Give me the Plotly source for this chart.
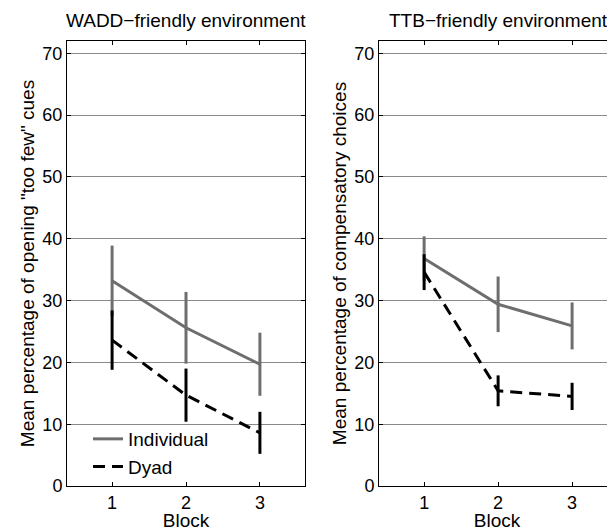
import plotly.graph_objects as go

blocks = [1, 2, 3]
tick_vals_y = [0, 10, 20, 30, 40, 50, 60, 70]

wadd_individual = [33.2, 25.6, 19.7]
wadd_individual_err = [5.7, 5.8, 5.1]
wadd_dyad = [23.6, 14.7, 8.6]
wadd_dyad_err = [4.8, 4.3, 3.4]

ttb_individual = [36.8, 29.4, 25.9]
ttb_individual_err = [3.6, 4.5, 3.8]
ttb_dyad = [34.6, 15.4, 14.5]
ttb_dyad_err = [2.9, 2.5, 2.2]

GRAY = "#6e6e6e"
BLACK = "#000000"
FONT = "Liberation Sans, Arial, sans-serif"
FS = 19

fig = go.Figure()

def add_pair(ind, ind_err, dy, dy_err, xa, ya, show):
    fig.add_trace(go.Scatter(
        x=blocks, y=ind, mode="lines", name="Individual",
        line=dict(color=GRAY, width=3),
        error_y=dict(type="data", array=ind_err, visible=True, color=GRAY, thickness=3, width=0),
        xaxis=xa, yaxis=ya, showlegend=show))
    fig.add_trace(go.Scatter(
        x=blocks, y=dy, mode="lines", name="Dyad",
        line=dict(color=BLACK, width=3, dash="12px,7px"),
        error_y=dict(type="data", array=dy_err, visible=True, color=BLACK, thickness=3, width=0),
        xaxis=xa, yaxis=ya, showlegend=show))

add_pair(wadd_individual, wadd_individual_err, wadd_dyad, wadd_dyad_err, "x", "y", True)
add_pair(ttb_individual, ttb_individual_err, ttb_dyad, ttb_dyad_err, "x2", "y2", False)

# page has an 8px body margin, so figure coordinates are page - 8
W, H = 607, 523
ML, MR, MT, MB = 0, 0, 33, 45
PW = W - ML - MR
PH = H - MT - MB

def xaxis(domain, rng, anchor):
    return dict(domain=domain, range=rng, anchor=anchor, tickvals=blocks, ticks="inside", ticklen=4,
                tickcolor=BLACK, showline=True, linecolor=BLACK, linewidth=1, mirror="ticks",
                showgrid=False, zeroline=False, automargin=False,
                tickfont=dict(size=FS - 1, color=BLACK, family=FONT),
                title=dict(text="Block", font=dict(size=FS, color=BLACK, family=FONT), standoff=4))

def yaxis(anchor, title, mirror):
    return dict(anchor=anchor, domain=[0, 1], range=[0, 72], tickvals=tick_vals_y, ticks="inside",
                ticklen=4, tickcolor=BLACK, showline=True, linecolor=BLACK, linewidth=1,
                mirror=mirror, showgrid=True, gridcolor="#8a8a8a", gridwidth=1, zeroline=False,
                automargin=False,
                tickfont=dict(size=FS - 1, color=BLACK, family=FONT),
                title=dict(text=title, font=dict(size=FS, color=BLACK, family=FONT), standoff=2))

fig.update_layout(
    width=W, height=H,
    margin=dict(l=ML, r=MR, t=MT, b=MB, autoexpand=False),
    paper_bgcolor="white", plot_bgcolor="white",
    font=dict(family=FONT, size=FS, color=BLACK),
    xaxis=xaxis([59 / PW, 297 / PW], [0.39, 3.61], "y"),
    yaxis=yaxis("x", "Mean percentage of opening \"too few\" cues", "ticks"),
    xaxis2=xaxis([371 / PW, 1.0], [0.39, 3.58], "y2"),
    yaxis2=yaxis("x2", "Mean percentage of compensatory choices", False),
    legend=dict(x=80 / PW, y=0.0, xanchor="left", yanchor="bottom", bgcolor="rgba(0,0,0,0)",
                font=dict(size=FS, color=BLACK, family=FONT), tracegroupgap=0),
    annotations=[
        dict(text="WADD\u2212friendly environment", x=(59 + 297) / 2 / PW, y=1 + 20 / PH,
             xref="paper", yref="paper", xanchor="center", yanchor="middle", showarrow=False,
             font=dict(size=FS, color=BLACK, family=FONT)),
        dict(text="TTB\u2212friendly environment", x=(371 + 609) / 2 / PW, y=1 + 20 / PH,
             xref="paper", yref="paper", xanchor="center", yanchor="middle", showarrow=False,
             font=dict(size=FS, color=BLACK, family=FONT)),
    ],
)

fig.write_html("out.html")
